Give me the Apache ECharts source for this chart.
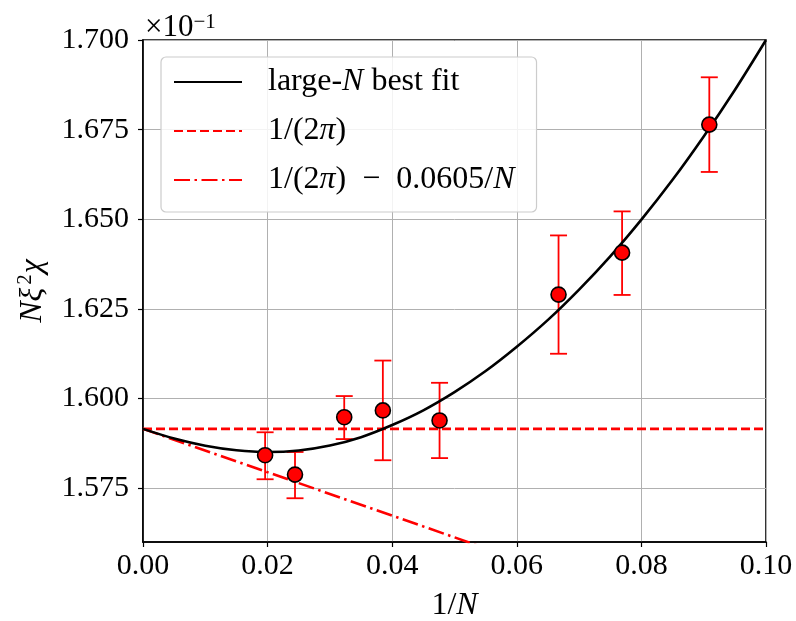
<!DOCTYPE html>
<html>
<head>
<meta charset="utf-8">
<script src="https://cdn.jsdelivr.net/npm/echarts@6/dist/echarts.min.js"></script>
<style>
html,body{margin:0;padding:0;background:#fff;}
#chart{width:796px;height:621px;}
</style>
</head>
<body>
<div id="chart"></div>
<script>
// ---- data (values in units of 10^-1) ----
const ptX   = [0.0196, 0.0244, 0.0323, 0.0385, 0.0476, 0.0667, 0.0769, 0.0909];
const ptY   = [1.5842, 1.5788, 1.5948, 1.5967, 1.5939, 1.6290, 1.6407, 1.6764];
const errLo = [1.5775, 1.5722, 1.5887, 1.5828, 1.5834, 1.6125, 1.6289, 1.6632];
const errHi = [1.5906, 1.5851, 1.6007, 1.6106, 1.6044, 1.6455, 1.6522, 1.6896];

const fitX = [0, 0.005, 0.01, 0.015, 0.02, 0.025, 0.03, 0.035, 0.04, 0.045, 0.05,
              0.055, 0.06, 0.065, 0.07, 0.075, 0.08, 0.085, 0.09, 0.095, 0.1];
const fitY = [1.59155, 1.58885, 1.58685, 1.58558, 1.58509, 1.58552, 1.58690, 1.58924,
              1.59263, 1.59673, 1.60180, 1.60767, 1.61445, 1.62194, 1.63039, 1.63966,
              1.64990, 1.66100, 1.67310, 1.68606, 1.70000];

const lineX   = [0, 0.1];
const twoPiY  = [1.59155, 1.59155];
const linearY = [1.59155, 1.53105];

const yTicks = [1.575, 1.600, 1.625, 1.650, 1.675, 1.700];

const seriesNames = ['fit', 'twopi', 'linear'];
const legendLabels = {
  fit: 'large-{i|N} best fit',
  twopi: '1/(2{i|π})',
  linear: '1/(2{i|π})  −  0.0605/{i|N}'
};

const FONT = 'Liberation Serif';
const zip = (a, b) => a.map((v, i) => [v, b[i]]);

const chart = echarts.init(document.getElementById('chart'), null, {renderer: 'canvas'});

const option = {
  backgroundColor: '#fff',
  animation: false,
  grid: {left: 143, right: 30, top: 40, bottom: 79, show: true,
         containLabel: false, outerBoundsMode: 'none',
         borderColor: '#000', borderWidth: 1.6, backgroundColor: 'transparent'},
  legend: {
    data: seriesNames,
    orient: 'vertical',
    left: 161, top: 57,
    itemWidth: 68, itemHeight: 14, itemGap: 17,
    padding: [9, 22, 16, 12],
    backgroundColor: 'rgba(255,255,255,0.85)',
    borderColor: '#cccccc', borderWidth: 1.2, borderRadius: 5,
    selectedMode: false,
    itemStyle: {opacity: 0},
    formatter: n => legendLabels[n],
    textStyle: {
      fontFamily: FONT, fontSize: 32, color: '#000', lineHeight: 32,
      padding: [0, 0, 0, 21],
      rich: {i: {fontFamily: FONT, fontStyle: 'italic', fontSize: 32, color: '#000', lineHeight: 32}}
    }
  },
  xAxis: {
    type: 'value', min: 0, max: 0.1, interval: 0.02,
    name: '1/{i|N}', nameLocation: 'middle', nameGap: 48,
    nameTextStyle: {fontFamily: FONT, fontSize: 32, color: '#000',
      rich: {i: {fontFamily: FONT, fontStyle: 'italic', fontSize: 32, color: '#000'}}},
    axisLine: {lineStyle: {color: '#000', width: 1.6}},
    axisTick: {show: true, inside: false, length: 5, lineStyle: {color: '#000', width: 1.2}},
    axisLabel: {fontFamily: FONT, fontSize: 30, color: '#000', margin: 9,
      formatter: v => v.toFixed(2)},
    splitLine: {show: true, lineStyle: {color: '#b0b0b0', width: 1}}
  },
  yAxis: {
    type: 'value', min: 1.56, max: 1.70,
    name: '{i|Nξ}{s|2}{i|χ}', nameLocation: 'middle', nameGap: 92,
    nameTextStyle: {fontFamily: FONT, fontSize: 32, color: '#000',
      rich: {
        i: {fontFamily: FONT, fontStyle: 'italic', fontSize: 32, color: '#000', lineHeight: 36},
        s: {fontFamily: FONT, fontSize: 21, color: '#000', lineHeight: 20, verticalAlign: 'top',
            padding: [0, 1, 0, 3]}
      }},
    axisLine: {lineStyle: {color: '#000', width: 1.6}},
    axisTick: {show: true, inside: false, length: 5, customValues: yTicks,
      lineStyle: {color: '#000', width: 1.2}},
    axisLabel: {fontFamily: FONT, fontSize: 30, color: '#000', margin: 14,
      customValues: yTicks, formatter: v => v.toFixed(3)},
    splitLine: {show: true, lineStyle: {color: '#b0b0b0', width: 1}}
  },
  graphic: [{
    type: 'text', left: 145, top: 12, z: 100,
    style: {
      text: '×10{s|−1}',
      fontFamily: FONT, fontSize: 31, fill: '#000',
      rich: {s: {fontFamily: FONT, fontSize: 21, fill: '#000', verticalAlign: 'top', lineHeight: 18}}
    }
  }],
  series: [
    {
      type: 'custom', name: 'err', z: 2,
      data: ptX.map((x, i) => [x, errLo[i], errHi[i]]),
      renderItem: (params, api) => {
        const x = api.value(0);
        const lo = api.coord([x, api.value(1)]);
        const hi = api.coord([x, api.value(2)]);
        const c = 8.5;
        const st = {stroke: '#ff0000', lineWidth: 1.8};
        return {type: 'group', children: [
          {type: 'line', shape: {x1: lo[0], y1: lo[1], x2: hi[0], y2: hi[1]}, style: st},
          {type: 'line', shape: {x1: lo[0] - c, y1: lo[1], x2: lo[0] + c, y2: lo[1]}, style: st},
          {type: 'line', shape: {x1: hi[0] - c, y1: hi[1], x2: hi[0] + c, y2: hi[1]}, style: st}
        ]};
      }
    },
    {
      type: 'line', name: 'fit', z: 4, data: zip(fitX, fitY), smooth: 0.3,
      symbol: 'none', showSymbol: false,
      lineStyle: {color: '#000', width: 2.6}, itemStyle: {color: '#000'}
    },
    {
      type: 'line', name: 'twopi', z: 3, data: zip(lineX, twoPiY),
      symbol: 'none', showSymbol: false,
      lineStyle: {color: '#ff0000', width: 2.6, type: [9, 4]}, itemStyle: {color: '#ff0000'}
    },
    {
      type: 'line', name: 'linear', z: 3, data: zip(lineX, linearY),
      symbol: 'none', showSymbol: false, clip: true,
      lineStyle: {color: '#ff0000', width: 2.6, type: [16, 4.5, 2.5, 4.5]}, itemStyle: {color: '#ff0000'}
    },
    {
      type: 'scatter', name: 'data', z: 5, data: zip(ptX, ptY),
      symbol: 'circle', symbolSize: 15,
      itemStyle: {color: '#ff0000', borderColor: '#000', borderWidth: 1.6, opacity: 1}
    }
  ]
};
chart.setOption(option);
</script>
</body>
</html>
